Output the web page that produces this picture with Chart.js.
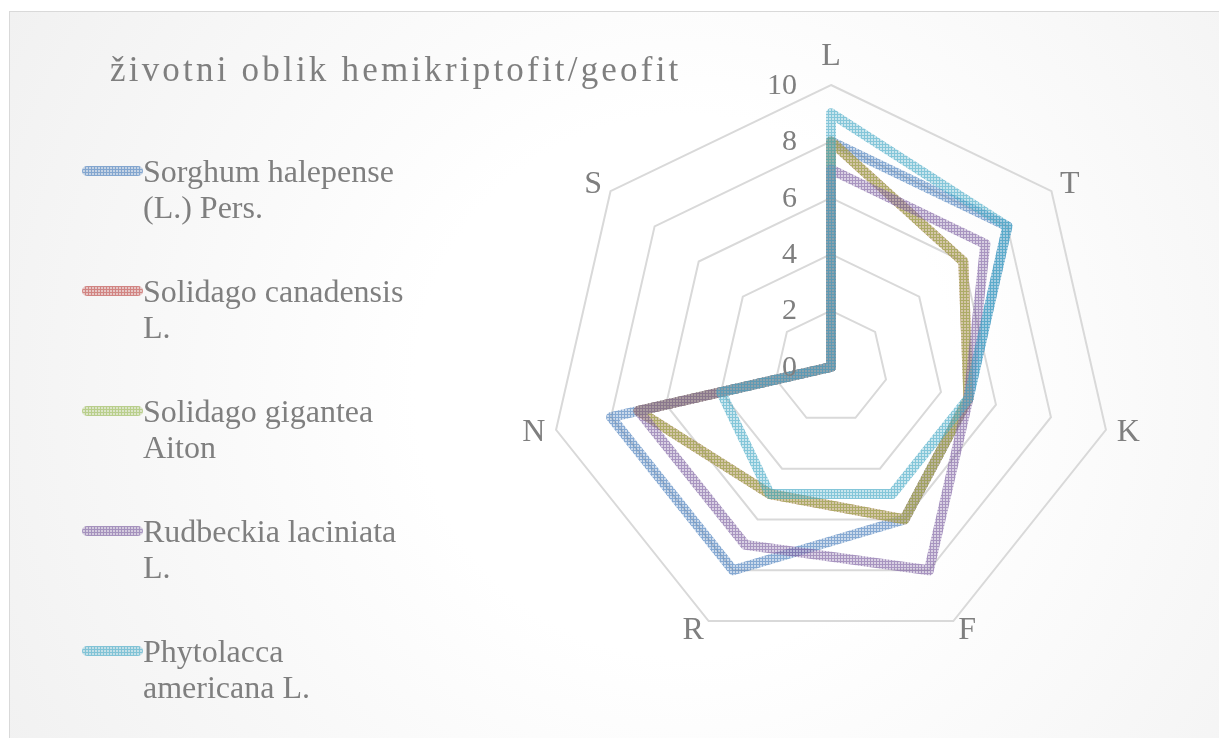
<!DOCTYPE html>
<html>
<head>
<meta charset="utf-8">
<script src="https://cdn.jsdelivr.net/npm/chart.js@4.4.1/dist/chart.umd.min.js"></script>
<style>
  html, body { margin: 0; padding: 0; background: #ffffff; }
  #wrap {
    position: relative; width: 1219px; height: 738px; overflow: hidden;
  }
  #frame {
    position: absolute; left: 9px; top: 11px; width: 1230px; height: 750px;
    border: 1px solid #d9d9d9; box-sizing: border-box;
    background: radial-gradient(circle at 55% 50%, #ffffff 35%, #f1f1f1 100%);
  }
  #chart { position: absolute; left: 0; top: 0; }
  .txt { position: absolute; font-family: "Liberation Serif", "Times New Roman", serif; color: #7f7f7f; white-space: nowrap; }
  #title { left: 110px; top: 52px; font-size: 35px; line-height: 35px; letter-spacing: 3.2px; }
  .item { position: absolute; left: 82px; }
  .item .swatch { position: absolute; left: 0; width: 61px; height: 10px; border-radius: 5px; }
  .item .label { position: absolute; left: 61px; top: 0; font-size: 32px; line-height: 36px; }
</style>
</head>
<body>
<div id="wrap">
  <div id="frame"></div>
  <canvas id="chart" width="1219" height="738"></canvas>
  <div id="title" class="txt">životni oblik hemikriptofit/geofit</div>
  <div id="legend"></div>
</div>
<script>
// kategorije (ekološki indeksi)
const labels = ['L', 'T', 'K', 'F', 'R', 'N', 'S'];

// vrijednosti po vrsti
const sorghum    = [8, 8, 5, 6, 8, 8, 0];
const canadensis = [8, 6, 5, 6, 5, 7, 0];
const gigantea   = [8, 6, 5, 6, 5, 7, 0];
const rudbeckia  = [7, 7, 5, 8, 7, 7, 0];
const phytolacca = [9, 8, 5, 5, 5, 4, 0];

const seriesNames = [
  'Sorghum halepense<br>(L.) Pers.',
  'Solidago canadensis<br>L.',
  'Solidago gigantea<br>Aiton',
  'Rudbeckia laciniata<br>L.',
  'Phytolacca<br>americana L.'
];
const seriesData = [sorghum, canadensis, gigantea, rudbeckia, phytolacca];
const seriesColors = ['#4F81BD', '#C0504D', '#9BBB59', '#8064A2', '#4BACC6'];

const tickValues = [0, 2, 4, 6, 8, 10];

const FONT = '"Liberation Serif", "Times New Roman", serif';
const TEXT_COLOR = '#7f7f7f';

// uzorak (šrafura) kao u Excelu
function makeTile(color) {
  const c = document.createElement('canvas');
  c.width = 3; c.height = 3;
  const g = c.getContext('2d');
  g.fillStyle = color;
  g.globalAlpha = 0.3;
  g.fillRect(0, 0, 3, 3);
  g.globalAlpha = 0.55;
  g.fillRect(0, 0, 3, 1);
  g.fillRect(0, 1, 1, 2);
  return c;
}

const ctx = document.getElementById('chart').getContext('2d');
const tiles = seriesColors.map(makeTile);

// legenda
const legendEl = document.getElementById('legend');
seriesNames.forEach((name, i) => {
  const item = document.createElement('div');
  item.className = 'item';
  item.style.top = (153 + i * 120) + 'px';
  const sw = document.createElement('div');
  sw.className = 'swatch txt';
  sw.style.top = '13px';
  sw.style.backgroundImage = 'url(' + tiles[i].toDataURL() + ')';
  const lb = document.createElement('div');
  lb.className = 'label txt';
  lb.innerHTML = name;
  item.appendChild(sw);
  item.appendChild(lb);
  legendEl.appendChild(item);
});

const radarText = {
  id: 'radarText',
  afterDatasetsDraw(chart) {
    const scale = chart.scales.r;
    const c = chart.ctx;
    const r = scale.drawingArea;
    c.save();
    c.fillStyle = TEXT_COLOR;

    // oznake osi
    c.font = '32px ' + FONT;
    labels.forEach((lab, i) => {
      const top = scale.getPointPosition(i, r);
      const vertical = Math.abs(top.x - scale.xCenter) < 1;
      const p = scale.getPointPosition(i, r + (vertical ? 20 : 11));
      if (vertical) {
        c.textAlign = 'center';
        c.textBaseline = 'alphabetic';
      } else {
        c.textAlign = p.x > scale.xCenter ? 'left' : 'right';
        c.textBaseline = 'middle';
      }
      c.fillText(lab, p.x, p.y);
    });

    // vrijednosti skale
    c.font = '30px ' + FONT;
    c.textAlign = 'right';
    c.textBaseline = 'middle';
    tickValues.forEach(v => {
      const y = scale.yCenter - scale.getDistanceFromCenterForValue(v);
      c.fillText(String(v), scale.xCenter - 34, y + 1);
    });
    c.restore();
  }
};

new Chart(ctx, {
  type: 'radar',
  data: {
    labels: labels,
    datasets: seriesData.map((d, i) => ({
      label: seriesNames[i],
      data: d,
      borderColor: ctx.createPattern(tiles[i], 'repeat'),
      backgroundColor: 'transparent',
      borderWidth: 10,
      borderJoinStyle: 'round',
      borderCapStyle: 'round',
      pointRadius: 0,
      fill: false,
      tension: 0,
      order: seriesData.length - i
    }))
  },
  options: {
    responsive: false,
    animation: false,
    devicePixelRatio: 1,
    layout: { padding: { left: 549, right: 106, top: 85, bottom: 89 } },
    plugins: {
      legend: { display: false },
      tooltip: { enabled: false }
    },
    scales: {
      r: {
        min: 0,
        max: 10,
        ticks: { stepSize: 2, display: false },
        grid: { color: '#d9d9d9', lineWidth: 2 },
        angleLines: { display: false },
        pointLabels: { display: false }
      }
    }
  },
  plugins: [radarText]
});
</script>
</body>
</html>
